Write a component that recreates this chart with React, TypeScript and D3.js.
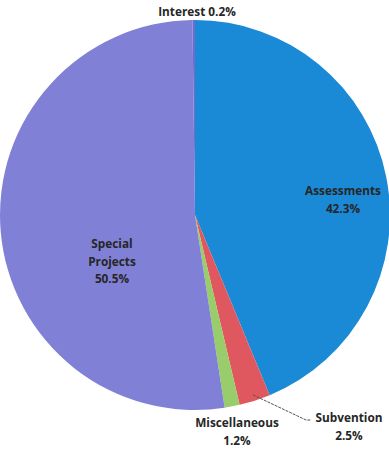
import React from "react";
import * as d3 from "d3";

const categories = ["Assessments", "Subvention", "Miscellaneous", "Special Projects", "Interest"];
const values = [42.3, 2.5, 1.2, 50.5, 0.2];
const percentLabels = ["42.3%", "2.5%", "1.2%", "50.5%", "0.2%"];
const colors = ["#1b8ad6", "#e0585f", "#99cc6b", "#8080d6", "#6f6ccb"];

const W = 389;
const H = 451;
const CX = 195;
const CY = 215;
const R = 195;

// label layout (text lines + anchor) kept separate from data
const labelLayout: { lines: string[]; x: number; y: number }[] = [
  { lines: ["Assessments", percentLabels[0]], x: 343, y: 195 },
  { lines: ["Subvention", percentLabels[1]], x: 349, y: 422 },
  { lines: ["Miscellaneous", percentLabels[2]], x: 237, y: 427 },
  { lines: ["Special", "Projects", percentLabels[3]], x: 112, y: 248 },
  { lines: ["Interest " + percentLabels[4]], x: 197, y: 16 },
];

export default function App() {
  const data = categories.map((c, i) => ({ name: c, value: values[i], color: colors[i] }));
  const pie = d3
    .pie<{ name: string; value: number; color: string }>()
    .sort(null)
    .value((d) => d.value)
    .startAngle(0)
    .endAngle(2 * Math.PI);
  const arcs = pie(data);
  const arc = d3
    .arc<d3.PieArcDatum<{ name: string; value: number; color: string }>>()
    .innerRadius(0)
    .outerRadius(R);

  // leader line for Subvention: from slice edge to label
  const sub = arcs[1];
  const midA = (sub.startAngle + sub.endAngle) / 2;
  const edge = [CX + Math.sin(midA) * (R - 6), CY - Math.cos(midA) * (R - 6)];
  const line = d3.line()([
    [edge[0], edge[1]],
    [306, 420],
    [311, 420],
  ] as [number, number][]);

  return (
    <svg
      width={W}
      height={H}
      style={{ position: "absolute", left: 0, top: 0, background: "#fff" }}
      fontFamily="'Open Sans', 'DejaVu Sans', sans-serif"
    >
      <g transform={`translate(${CX},${CY})`}>
        {arcs.map((a, i) => (
          <path key={i} d={arc(a) || ""} fill={a.data.color} />
        ))}
      </g>
      <path d={line || ""} fill="none" stroke="#555" strokeWidth={1} strokeDasharray="3,1" />
      {labelLayout.map((l, i) => (
        <text
          key={i}
          x={l.x}
          y={l.y}
          textAnchor="middle"
          fontSize={11.8}
          fontWeight="bold"
          fill="#262626"
        >
          {l.lines.map((t, j) => (
            <tspan key={j} x={l.x} dy={j === 0 ? 0 : 17.5}>
              {t}
            </tspan>
          ))}
        </text>
      ))}
    </svg>
  );
}
